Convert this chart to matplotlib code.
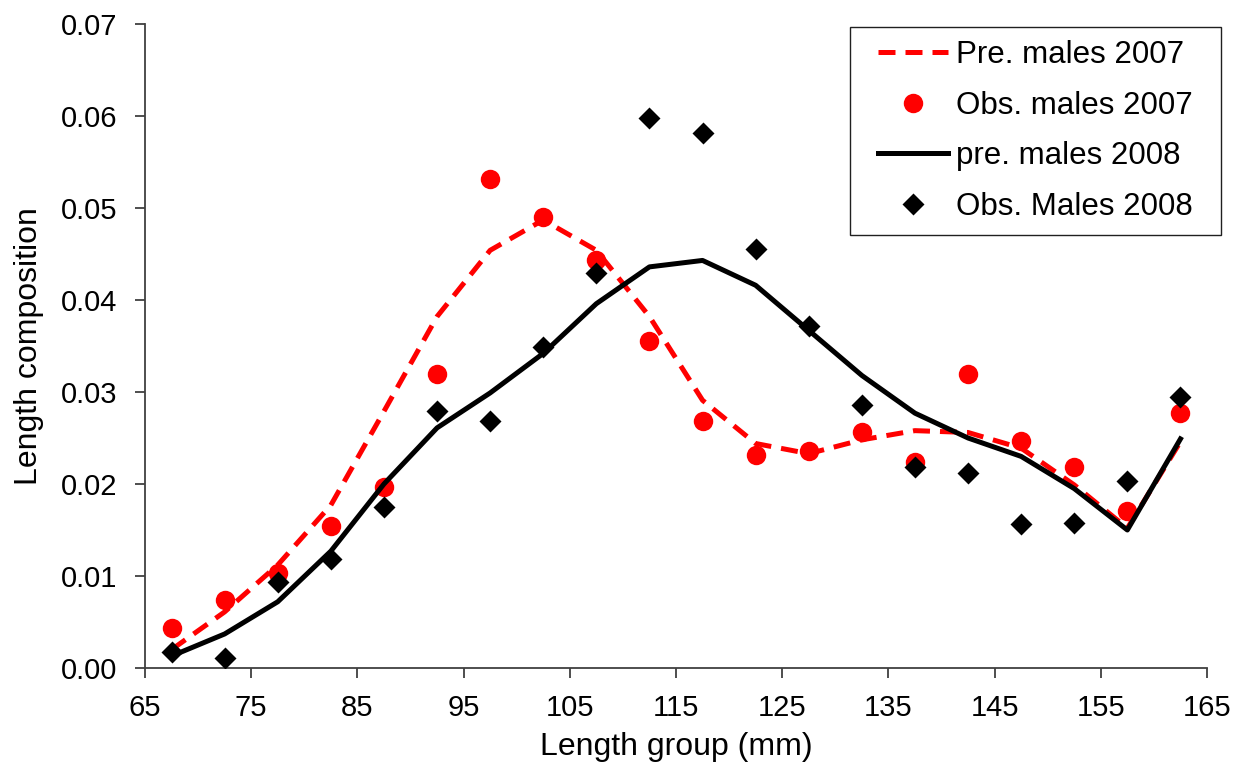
import matplotlib
matplotlib.use("Agg")
import matplotlib.pyplot as plt
from matplotlib.path import Path

length_group = [67.5, 72.5, 77.5, 82.5, 87.5, 92.5, 97.5, 102.5, 107.5, 112.5,
                117.5, 122.5, 127.5, 132.5, 137.5, 142.5, 147.5, 152.5, 157.5, 162.5]

pre_males_2007 = [0.0020, 0.0061, 0.0112, 0.0177, 0.0279, 0.0382, 0.0454, 0.0487, 0.0454, 0.0382,
                  0.0291, 0.0244, 0.0233, 0.0248, 0.0258, 0.0256, 0.0239, 0.0199, 0.0152, 0.0246]
obs_males_2007 = [0.0044, 0.0074, 0.0103, 0.0154, 0.0197, 0.0320, 0.0532, 0.0490, 0.0443, 0.0355,
                  0.0268, 0.0232, 0.0236, 0.0257, 0.0224, 0.0320, 0.0247, 0.0218, 0.0171, 0.0277]
pre_males_2008 = [0.0013, 0.0037, 0.0072, 0.0127, 0.0200, 0.0261, 0.0299, 0.0342, 0.0396, 0.0436,
                  0.0443, 0.0416, 0.0367, 0.0318, 0.0277, 0.0250, 0.0230, 0.0195, 0.0150, 0.0249]
obs_males_2008 = [0.0017, 0.0011, 0.0094, 0.0118, 0.0175, 0.0279, 0.0268, 0.0349, 0.0429, 0.0598,
                  0.0582, 0.0455, 0.0372, 0.0286, 0.0219, 0.0212, 0.0157, 0.0158, 0.0203, 0.0295]

x_ticks = [65, 75, 85, 95, 105, 115, 125, 135, 145, 155, 165]
y_ticks = [0.00, 0.01, 0.02, 0.03, 0.04, 0.05, 0.06, 0.07]

plt.rcParams['font.family'] = ['Liberation Sans', 'DejaVu Sans']

fig = plt.figure(figsize=(12.47, 7.70), dpi=100)
ax = fig.add_axes([145/1247, 1 - 668/770, (1207 - 145)/1247, (668 - 24)/770])

ax.plot(length_group, pre_males_2007, color='#ff0000', lw=3.6, ls=(0, (3.4, 2.0)),
        label='Pre. males 2007', zorder=3)
ax.plot(length_group, obs_males_2007, 'o', color='#ff0000', ms=14, mec='none',
        label='Obs. males 2007', zorder=2)
ax.plot(length_group, pre_males_2008, color='black', lw=3.6,
        label='pre. males 2008', zorder=4)
ax.plot(length_group, obs_males_2008, 'D', color='black', ms=11.5, mec='none',
        label='Obs. Males 2008', zorder=5)

ax.set_xlim(65, 165)
ax.set_ylim(0, 0.07)
ax.set_xticks(x_ticks)
ax.set_yticks(y_ticks)
ax.set_yticklabels([f"{v:.2f}" for v in y_ticks])
ax.spines['top'].set_visible(False)
ax.spines['right'].set_visible(False)
for s in ['left', 'bottom']:
    ax.spines[s].set_color('#404040')
    ax.spines[s].set_linewidth(1.3)
ax.tick_params(axis='both', direction='out', length=7, width=1.3, color='#404040',
               labelsize=21)
ax.tick_params(axis='x', pad=12)
ax.tick_params(axis='y', pad=13)
ax.set_xlabel('Length group (mm)', fontsize=23, labelpad=7)
ax.set_ylabel('Length composition', fontsize=23, labelpad=12)

leg = ax.legend(loc='upper right', bbox_to_anchor=(1206/1247, 1 - 27/770),
                bbox_transform=fig.transFigure, borderaxespad=0, fontsize=22.5,
                frameon=True, fancybox=False, edgecolor='#202020', framealpha=1,
                handlelength=2.25, handletextpad=0.25, labelspacing=0.66,
                borderpad=0.42, numpoints=1)


def wide_box(x0, y0, width, height, mutation_size):
    px = 15
    xa, xb = x0 - px, x0 + width + px
    ya, yb = y0, y0 + height
    return Path([(xa, ya), (xb, ya), (xb, yb), (xa, yb), (xa, ya)],
                [Path.MOVETO, Path.LINETO, Path.LINETO, Path.LINETO, Path.CLOSEPOLY])


leg.get_frame().set_boxstyle(wide_box)
leg.get_frame().set_linewidth(1.0)

fig.savefig('out.png', dpi=100)
